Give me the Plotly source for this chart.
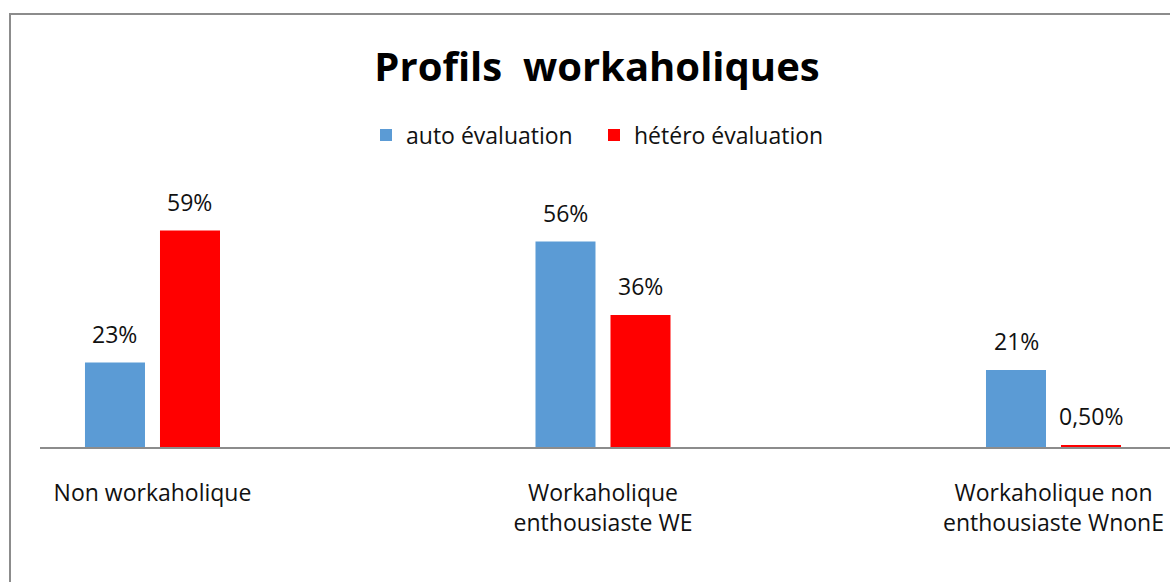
import plotly.graph_objects as go

categories = ["Non workaholique", "Workaholique<br>enthousiaste WE", "Workaholique non<br>enthousiaste WnonE"]
auto_vals = [23, 56, 21]
hetero_vals = [59, 36, 0.5]
auto_labels = ["23%", "56%", "21%"]
hetero_labels = ["59%", "36%", "0,50%"]
series_names = ["auto évaluation", "hétéro évaluation"]
title_text = "Profils\u00a0 workaholiques"

BLUE = "#5B9BD5"
RED = "#FF0000"
FONT = "Open Sans, Noto Sans, sans-serif"
TXT = "#111111"

fig = go.Figure()
fig.add_trace(go.Bar(x=categories, y=auto_vals, name=series_names[0], marker_color=BLUE,
                     marker_line_width=0, hoverinfo="skip"))
fig.add_trace(go.Bar(x=categories, y=hetero_vals, name=series_names[1], marker_color=RED,
                     marker_line_width=0, hoverinfo="skip"))

for vals, labs, shift in [(auto_vals, auto_labels, -37.5), (hetero_vals, hetero_labels, 37.5)]:
    for c, v, t in zip(categories, vals, labs):
        fig.add_annotation(x=c, y=v, text=t, showarrow=False, xshift=shift, yshift=11,
                           yanchor="bottom", font=dict(family=FONT, size=23, color=TXT))

L, R, T, B = 40, 0, 170, 135
W, H = 1170, 582
pw, ph = W - L - R, H - T - B

def px_x(p):
    return (p - L) / pw

def px_y(p):
    return (H - B - p) / ph

fig.add_shape(type="rect", xref="paper", yref="paper",
              x0=px_x(10), x1=px_x(1185), y0=px_y(600), y1=px_y(14),
              line=dict(color="#8C8C8C", width=2), fillcolor="rgba(0,0,0,0)", layer="above")

fig.update_layout(
    width=W, height=H,
    margin=dict(l=L, r=R, t=T, b=B, pad=0),
    paper_bgcolor="white", plot_bgcolor="white",
    barmode="group", bargap=0.667, bargroupgap=0.2,
    font=dict(family=FONT, size=23, color=TXT),
    title=dict(text="<b>" + title_text + "</b>", x=px_x(597), xref="paper", xanchor="center",
               y=1 - 67 / H, yref="container", yanchor="middle",
               font=dict(family=FONT, size=40, color="#000000")),
    legend=dict(orientation="h", x=px_x(366), xanchor="left", y=px_y(135), yanchor="middle",
                font=dict(family=FONT, size=23, color=TXT), itemclick=False, itemdoubleclick=False,
                itemwidth=30, entrywidth=183, entrywidthmode="pixels", traceorder="normal"),
    showlegend=True,
)
fig.update_xaxes(type="category", range=[-0.2497, 2.2586], showline=True, linecolor="#8C8C8C",
                 linewidth=2, ticks="outside", ticklen=24, tickcolor="rgba(0,0,0,0)",
                 showgrid=False, zeroline=False, tickfont=dict(family=FONT, size=23, color=TXT))
fig.update_yaxes(range=[0, 75.5], showgrid=False, zeroline=False, showticklabels=False,
                 showline=False, ticks="")

fig.write_html("out.html", config={"displayModeBar": False},
               post_script="document.body.style.margin='0';document.body.style.overflow='hidden';")
